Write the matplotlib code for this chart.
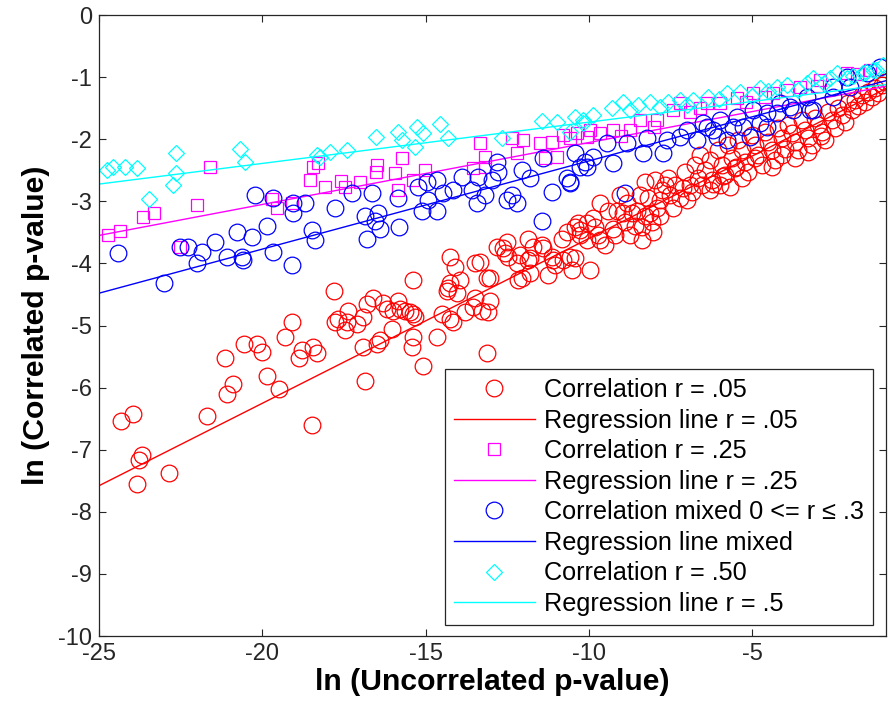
import numpy as np
import matplotlib
matplotlib.use("Agg")
import matplotlib.pyplot as plt

plt.rcParams['font.family'] = ['Liberation Sans', 'DejaVu Sans']
plt.rcParams['axes.unicode_minus'] = False

# ---------------- data ----------------
red_x = [-24.33, -23.96, -23.68, -23.77, -23.84, -22.86, -21.69, -21.14, -21.08, -20.90,
         -20.56, -20.16, -20.01, -19.85, -19.49, -19.30, -19.09, -18.87, -18.78, -18.45,
         -18.32, -18.48, -17.80, -17.77, -17.68, -17.47, -17.40, -17.37, -17.10, -16.91,
         -16.91, -16.79, -16.85, -16.61, -16.49, -16.39, -16.30, -16.18, -16.03, -16.00,
         -15.84, -15.78, -15.63, -15.47, -15.38, -15.38, -15.32, -15.38, -15.41, -15.08,
         -14.65, -14.49, -14.25, -14.31, -14.25, -14.10, -14.04, -14.16, -13.94, -13.79,
         -13.48, -13.48, -13.27, -13.12, -13.12,
         -13.33, -13.02, -13.09, -12.81, -12.63, -12.50, -12.57, -12.20, -12.17, -12.04,
         -11.86, -11.80, -11.80, -11.43, -11.25, -11.13, -11.03, -10.82, -10.67, -10.57,
         -10.42, -10.51, -10.33, -10.27, -9.96, -10.05, -9.87, -9.81, -9.72, -9.66,
         -9.66, -9.41, -9.26, -9.13, -9.04, -8.95, -8.83, -8.68, -8.74, -8.52,
         -8.37, -8.37, -8.28, -8.19, -8.12, -8.03, -7.91, -7.82, -7.66, -7.51,
         -7.42, -7.21, -7.11, -6.99, -6.84, -6.53, -6.29, -5.98, -5.67,
         -12.47, -12.11, -11.86, -11.71, -11.40, -11.09, -10.79, -10.42, -10.27, -10.05,
         -13.02, -13.55, -14.34, -14.25,
         -7.97, -7.76, -7.57, -7.36, -7.05, -6.90, -6.74, -6.65, -8.43, -8.28,
         -8.06, -7.82, -8.58, -8.89, -9.20, -9.50,
         -6.59, -6.44, -6.29, -6.23, -6.05, -5.92, -5.83, -5.74, -5.62, -5.53,
         -5.43, -5.31, -5.21, -5.12, -5.00, -4.91, -4.82, -4.69, -4.60, -4.51,
         -4.39, -4.30, -4.20, -4.08, -3.99, -3.90, -3.78, -3.68, -3.59, -3.47,
         -3.38, -3.28, -3.16, -3.07, -2.98, -2.85, -2.76, -2.67, -2.55, -2.46,
         -2.37, -2.24, -2.15, -2.06, -1.94, -1.85, -1.75, -1.63, -1.54, -1.45,
         -1.32, -1.23, -1.14, -1.02, -0.93,
         -6.20, -5.90, -5.50, -5.30, -4.90, -4.40, -4.10, -3.70, -3.30, -2.90]
red_y = [-6.53, -6.42, -7.08, -7.16, -7.56, -7.37, -6.45, -5.52, -6.10, -5.94,
         -5.29, -5.29, -5.42, -5.81, -6.02, -5.18, -4.95, -5.53, -5.40, -5.35,
         -5.45, -6.61, -4.45, -4.95, -4.89, -5.08, -4.95, -4.76, -4.97, -4.87,
         -5.35, -4.65, -5.90, -4.55, -5.29, -5.24, -4.63, -4.73, -5.05, -4.76,
         -4.60, -4.73, -4.76, -4.79, -4.81, -4.27, -4.87, -5.19, -5.34, -5.65,
         -5.19, -4.81, -3.90, -4.40, -4.89, -4.06, -4.48, -4.95, -4.27, -4.79,
         -4.00, -4.55, -4.76, -5.44, -4.23,
         -3.98, -4.23, -4.79, -3.74, -3.76, -3.66, -3.84, -4.00, -4.27, -4.24,
         -3.60, -3.92, -4.16, -3.71, -4.19, -3.90, -4.03, -3.60, -3.50, -3.90,
         -3.92, -4.11, -3.35, -3.55, -4.11, -3.63, -3.27, -3.42, -3.55, -3.63,
         -3.02, -3.15, -3.44, -3.15, -2.90, -3.19, -3.03, -3.19, -3.55, -3.15,
         -3.63, -3.42, -2.69, -2.95, -3.19, -3.50, -3.11, -2.98, -2.74, -2.90,
         -3.10, -2.95, -2.79, -2.98, -2.85, -2.74, -2.82, -2.74, -2.77,
         -3.90, -3.87, -3.95, -3.74, -3.76, -3.95, -3.95, -3.42, -3.47, -3.35,
         -4.60, -4.71, -4.44, -4.32,
         -2.66, -2.82, -2.63, -2.74, -2.53, -2.74, -2.42, -2.63, -2.90, -3.23,
         -3.34, -3.23, -3.39, -3.34, -3.55, -3.71,
         -2.26, -2.50, -2.34, -2.66, -2.18, -2.42, -2.58, -2.10, -2.31, -2.47,
         -2.02, -2.18, -2.37, -2.53, -1.94, -2.10, -2.26, -2.42, -1.89, -2.05,
         -2.18, -2.34, -1.82, -1.98, -2.15, -1.77, -1.90, -2.05, -2.18, -1.69,
         -1.85, -1.98, -2.10, -1.66, -1.77, -1.89, -2.02, -1.56, -1.69, -1.82,
         -1.50, -1.61, -1.73, -1.42, -1.53, -1.37, -1.47, -1.29, -1.40, -1.24,
         -1.32, -1.18, -1.26, -1.13, -1.08,
         -2.72, -2.60, -2.45, -2.62, -2.30, -2.45, -2.25, -2.30, -2.20, -1.95]

mag_x = [-24.72, -24.36, -23.65, -23.32, -22.00, -21.60, -22.52, -19.70, -19.55, -19.09,
         -18.54, -18.45, -18.29, -18.08, -17.59, -17.47, -17.01, -16.52, -16.49, -15.93,
         -15.72, -15.84, -15.38, -15.02, -13.55, -13.33, -13.18, -13.18, -12.35, -12.20,
         -12.01, -11.49, -11.34, -11.13, -10.97, -10.79, -10.57, -10.36, -10.05,
         -9.96, -9.66, -9.26, -8.74, -8.43, -7.91, -7.42, -7.21, -6.90, -6.38,
         -5.98, -5.46, -4.97, -4.36, -3.93, -3.53, -2.92, -2.09, -1.39,
         -9.00, -8.00, -6.60, -5.20, -4.60, -3.00, -1.80]
mag_y = [-3.55, -3.48, -3.26, -3.19, -3.06, -2.45, -3.73, -2.97, -3.10, -3.02,
         -2.66, -2.45, -2.39, -2.77, -2.68, -2.77, -2.69, -2.53, -2.42, -2.55,
         -2.31, -2.82, -2.66, -2.50, -2.47, -2.06, -2.29, -2.45, -1.98, -2.23,
         -2.02, -2.06, -2.31, -2.05, -2.29, -1.94, -1.98, -1.90, -1.97,
         -1.85, -1.90, -1.85, -1.85, -1.69, -1.69, -1.53, -1.42, -1.56, -1.42,
         -1.42, -1.34, -1.26, -1.26, -1.21, -1.16, -1.05, -0.94, -0.89,
         -1.95, -1.80, -1.50, -1.40, -1.32, -1.15, -0.95]

blue_x = [-24.42, -23.01, -22.52, -22.27, -22.00, -21.85, -21.45, -21.08, -20.77, -20.62,
          -20.59, -20.31, -20.22, -19.85, -19.67, -19.67, -19.09, -19.06, -19.06, -18.69,
          -18.48, -18.38, -17.77, -17.25, -16.79, -16.85, -16.64, -16.55, -16.45, -16.39,
          -15.84, -15.81, -15.23, -15.11, -14.95, -14.92, -14.65, -14.65, -14.46, -14.16,
          -13.88, -13.58, -13.42, -13.39, -13.18, -12.96, -12.81, -12.78, -12.50, -12.35,
          -12.20, -12.04, -11.80, -11.43, -11.40, -11.13, -10.67, -10.57, -10.42, -10.27,
          -10.11,
          -10.05, -9.87, -9.44, -9.26, -8.83, -8.34, -8.22, -7.73, -7.60, -7.21,
          -6.99, -6.68, -6.50, -6.19, -5.98, -5.77, -5.46, -5.28, -4.97, -4.76,
          -4.54, -4.14, -3.74, -3.31, -3.13, -2.52, -2.09, -1.48, -1.08, -6.38,
          -6.07, -5.58, -5.06, -4.54, -4.23, -3.84, -3.22, -2.52, -2.00, -8.89,
          -10.57]
blue_y = [-3.84, -4.32, -3.74, -3.74, -4.00, -3.82, -3.65, -3.89, -3.50, -3.90,
          -3.95, -3.58, -2.90, -3.39, -3.82, -2.94, -4.03, -3.19, -3.02, -3.02,
          -3.47, -3.63, -3.10, -2.87, -3.60, -3.23, -2.87, -3.31, -3.19, -3.44,
          -2.95, -3.42, -2.77, -3.15, -2.69, -2.98, -3.15, -2.66, -2.87, -2.82,
          -2.61, -2.81, -3.02, -2.61, -2.90, -2.66, -2.37, -2.53, -2.98, -2.90,
          -3.03, -2.50, -2.63, -3.31, -2.31, -2.85, -2.63, -2.69, -2.23, -2.45,
          -2.37,
          -2.45, -2.29, -2.06, -2.39, -2.06, -2.23, -1.98, -2.23, -2.02, -1.97,
          -1.85, -2.02, -1.74, -1.85, -1.69, -2.02, -1.65, -1.81, -1.53, -1.74,
          -1.58, -1.42, -1.53, -1.32, -1.53, -1.16, -1.00, -0.94, -0.84, -1.81,
          -1.97, -1.81, -1.97, -1.81, -1.58, -1.48, -1.53, -1.32, -1.16, -2.87,
          -2.71]

cyan_x = [-24.75, -24.57, -24.20, -23.84, -23.47, -22.64, -22.64, -22.73, -20.68, -20.53,
          -18.32, -18.23, -17.92, -17.40, -16.52, -15.84, -15.72, -15.32, -15.26, -15.08,
          -14.56, -14.31, -12.66, -11.43, -10.97, -10.42, -10.57, -10.18,
          -10.18, -9.87, -8.95, -8.74, -8.49, -8.12, -7.82, -7.57, -7.21, -6.81,
          -6.35, -5.77, -5.37, -4.76, -4.23, -3.93, -3.31, -3.13, -2.61, -2.40,
          -2.09, -1.60, -1.29, -0.99,
          -9.30, -7.00, -6.00, -5.00, -4.50, -3.60, -2.80, -1.90, -1.50, -1.20]
cyan_y = [-2.50, -2.45, -2.44, -2.47, -2.97, -2.23, -2.55, -2.74, -2.16, -2.37,
          -2.26, -2.29, -2.21, -2.18, -1.97, -1.89, -2.02, -2.13, -1.81, -1.90,
          -1.76, -1.98, -1.98, -1.71, -1.73, -1.65, -1.89, -1.74,
          -1.69, -1.61, -1.40, -1.53, -1.45, -1.40, -1.48, -1.40, -1.37, -1.37,
          -1.32, -1.26, -1.24, -1.18, -1.16, -1.13, -1.10, -1.02, -1.02, -0.94,
          -1.02, -0.94, -0.89, -0.81,
          -1.50, -1.45, -1.35, -1.30, -1.22, -1.20, -1.10, -0.98, -0.92, -0.88]

# regression lines (slope, intercept)
red_fit = (0.2654, -0.945)
mag_fit = (0.0997, -1.057)
blue_fit = (0.1420, -0.930)
cyan_fit = (0.0665, -1.060)

labels = ['Correlation r = .05', 'Regression line r = .05',
          'Correlation r = .25', 'Regression line r = .25',
          'Correlation mixed 0 <= r \u2264 .3', 'Regression line mixed',
          'Correlation r = .50', 'Regression line r = .5']

x_ticks = [-25, -20, -15, -10, -5]
y_ticks = list(range(-10, 1))
x_lim = (-25, -0.9)
y_lim = (-10, 0)

# ---------------- plot ----------------
fig = plt.figure(figsize=(8.9, 7.1), dpi=100)
ax = fig.add_axes([99 / 890, 1 - 636 / 710, 787 / 890, 621 / 710])

xl = np.array(x_lim)
series = [
    (red_x, red_y, red_fit, '#FF0000', 'o', 12.0),
    (mag_x, mag_y, mag_fit, '#FF00FF', 's', 8.5),
    (blue_x, blue_y, blue_fit, '#0000FF', 'o', 12.0),
    (cyan_x, cyan_y, cyan_fit, '#00FFFF', 'D', 7.8),
]
handles = []
for xs, ys, (m, b), col, mk, ms in series:
    h1, = ax.plot(xs, ys, linestyle='none', marker=mk, markersize=ms,
                  markerfacecolor='none', markeredgecolor=col, markeredgewidth=0.9)
    h2, = ax.plot(xl, m * xl + b, color=col, linewidth=1.0)
    handles += [h1, h2]

ax.set_xlim(*x_lim)
ax.set_ylim(*y_lim)
ax.set_xticks(x_ticks)
ax.set_yticks(y_ticks)
ax.tick_params(direction='in', length=5, width=0.8, top=True, right=True,
               labelsize=17, colors='#262626', pad=5)
for sp in ax.spines.values():
    sp.set_color('#262626')
    sp.set_linewidth(0.9)

ax.set_xlabel('ln (Uncorrelated p-value)', fontsize=21.7, fontweight='bold', labelpad=2)
ax.set_ylabel('ln (Correlated p-value)', fontsize=21.7, fontweight='bold', labelpad=6)

leg = ax.legend(handles, labels, loc='lower right', bbox_to_anchor=(0.983, 0.018),
                fontsize=18.2, frameon=True, fancybox=False, framealpha=1,
                edgecolor='#262626', handlelength=3.2, labelspacing=0.26,
                handletextpad=0.35, borderpad=0.35, borderaxespad=0)
leg.get_frame().set_linewidth(0.9)

fig.savefig('out.png', dpi=100)
